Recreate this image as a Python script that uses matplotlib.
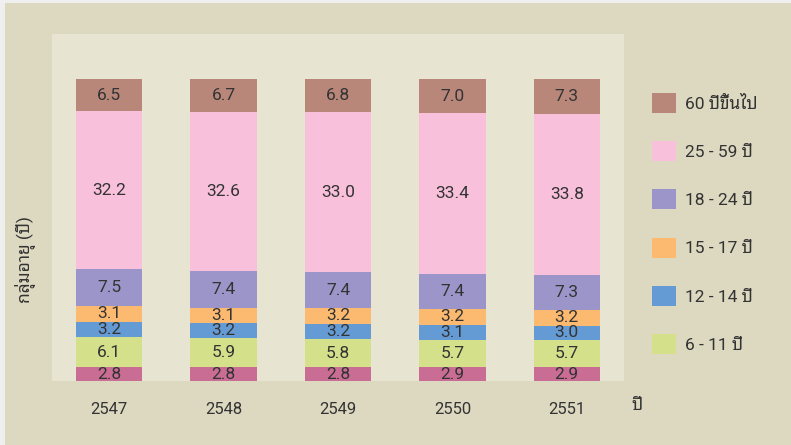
import matplotlib
matplotlib.use("Agg")
import matplotlib.pyplot as plt
from matplotlib.patches import Rectangle

# font: Roboto for latin/digits, Thai falls back to looped Noto
FONT = ['Roboto', 'Noto Sans Thai Looped', 'DejaVu Sans']
plt.rcParams['font.family'] = FONT

years = ['2547', '2548', '2549', '2550', '2551']
groups = ['0 - 5 ปี', '6 - 11 ปี', '12 - 14 ปี', '15 - 17 ปี', '18 - 24 ปี', '25 - 59 ปี', '60 ปีขึ้นไป']
values = [
    [2.8, 2.8, 2.8, 2.9, 2.9],       # bottom (not in legend)
    [6.1, 5.9, 5.8, 5.7, 5.7],
    [3.2, 3.2, 3.2, 3.1, 3.0],
    [3.1, 3.1, 3.2, 3.2, 3.2],
    [7.5, 7.4, 7.4, 7.4, 7.3],
    [32.2, 32.6, 33.0, 33.4, 33.8],
    [6.5, 6.7, 6.8, 7.0, 7.3],
]
colors = ['#c96d94', '#d4e08a', '#659bd5', '#fcba70', '#9b95c9', '#f9c0dc', '#b8877a']
in_legend = [False, True, True, True, True, True, True]

totals = [sum(v[i] for v in values) for i in range(len(years))]

fig = plt.figure(figsize=(7.91, 4.45), dpi=100, facecolor='#efefef')
fig.patches.append(Rectangle((5 / 791, 0), 1, 1 - 3 / 445, transform=fig.transFigure,
                             facecolor='#dcd9c0', edgecolor='none', zorder=-5))
ax = fig.add_axes([52 / 791, 1 - 381 / 445, 572 / 791, 347 / 445])
ax.set_facecolor('#e7e4d2')

x = list(range(len(years)))
bottom = [0.0] * len(years)
handles = []
for vals, col, leg, name in zip(values, colors, in_legend, groups):
    pct = [v / t * 100 for v, t in zip(vals, totals)]
    bars = ax.bar(x, pct, 0.58, bottom=bottom, color=col, edgecolor='none', label=name)
    for xi, b, p, v in zip(x, bottom, pct, vals):
        ax.text(xi, b + p / 2, f'{v:.1f}', ha='center', va='center',
                fontsize=12.5, color='#333333')
    if leg:
        handles.append(bars)
    bottom = [b + p for b, p in zip(bottom, pct)]

ax.set_xlim(-0.5, 4.5)
ax.set_ylim(0, 115)
ax.set_xticks(x)
ax.set_xticklabels(years, fontsize=12, color='#333333')
ax.tick_params(axis='x', length=0, pad=15)
ax.set_yticks([])
for s in ax.spines.values():
    s.set_visible(False)

fig.text(26 / 791, 1 - 260 / 445, 'กลุ่มอายุ (ปี)', fontsize=12.5, color='#333333',
         rotation=90, ha='center', va='center')
fig.text(632 / 791, 1 - 405 / 445, 'ปี', fontsize=12.5, color='#333333', ha='left', va='center')

leg = ax.legend(handles[::-1], [h.get_label() for h in handles[::-1]],
                loc='upper left', bbox_to_anchor=(1.0245, 0.87), frameon=False,
                fontsize=12.5, labelcolor='#333333', handlelength=1.4, handleheight=1.4,
                labelspacing=1.62, handletextpad=0.5, borderpad=0.3)

fig.savefig('out.png', dpi=100, facecolor=fig.get_facecolor())
